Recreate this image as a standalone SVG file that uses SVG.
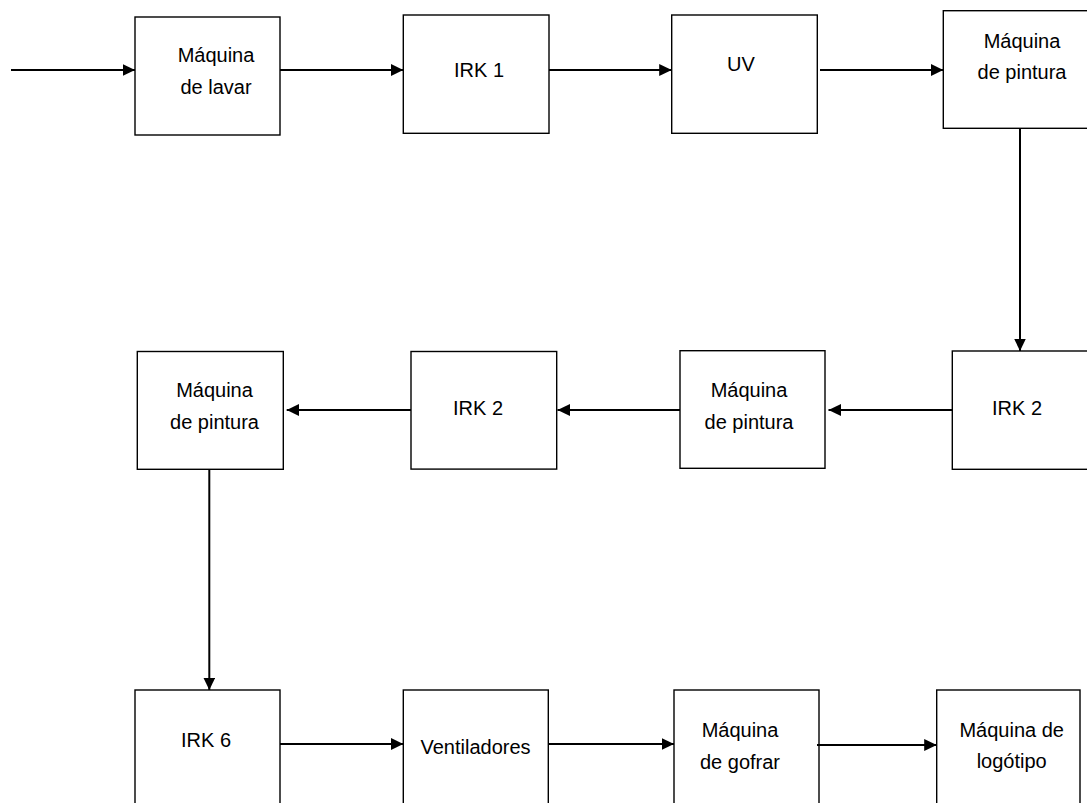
<svg xmlns="http://www.w3.org/2000/svg" width="1087" height="803" viewBox="0 0 1087 803">
<style>
.box{fill:#ffffff;stroke:#000000;stroke-width:1.4}
.lbl{font-family:"Liberation Sans",Arial,sans-serif;font-size:20px;fill:#000000;text-anchor:middle}
.con{stroke:#000000;stroke-width:2;fill:none;marker-end:url(#ah)}
</style>
<defs>
<marker id="ah" markerUnits="userSpaceOnUse" markerWidth="13" markerHeight="12" refX="12.5" refY="6" orient="auto">
<path d="M0,0 L12.5,6 L0,12 Z" fill="#000000"/>
</marker>
</defs>
<rect width="1087" height="803" fill="#ffffff"/>
<g id="n1"><rect class="box" x="135" y="17" width="145" height="118"/><text class="lbl" x="216" y="62">Máquina</text><text class="lbl" x="216" y="94">de lavar</text></g>
<g id="n2"><rect class="box" x="403.3" y="15" width="145.7" height="118.3"/><text class="lbl" x="479" y="77">IRK 1</text></g>
<g id="n3"><rect class="box" x="671.7" y="15" width="145.6" height="118.3"/><text class="lbl" x="741" y="71">UV</text></g>
<g id="n4"><rect class="box" x="943.3" y="10.7" width="150" height="117.6"/><text class="lbl" x="1022" y="48">Máquina</text><text class="lbl" x="1022" y="79">de pintura</text></g>
<g id="n5"><rect class="box" x="952.3" y="351" width="140" height="118.3"/><text class="lbl" x="1017" y="415">IRK 2</text></g>
<g id="n6"><rect class="box" x="680" y="350.7" width="145" height="117.6"/><text class="lbl" x="749" y="397">Máquina</text><text class="lbl" x="749" y="429">de pintura</text></g>
<g id="n7"><rect class="box" x="411" y="351.5" width="145.7" height="117.6"/><text class="lbl" x="478" y="415">IRK 2</text></g>
<g id="n8"><rect class="box" x="137.3" y="351.5" width="146" height="117.8"/><text class="lbl" x="214.5" y="397">Máquina</text><text class="lbl" x="214.5" y="429">de pintura</text></g>
<g id="n9"><rect class="box" x="135" y="690" width="145" height="130"/><text class="lbl" x="206" y="747">IRK 6</text></g>
<g id="n10"><rect class="box" x="403.3" y="690" width="145" height="130"/><text class="lbl" x="475.5" y="754">Ventiladores</text></g>
<g id="n11"><rect class="box" x="674" y="690" width="145" height="130"/><text class="lbl" x="740" y="737">Máquina</text><text class="lbl" x="740" y="769">de gofrar</text></g>
<g id="n12"><rect class="box" x="936.7" y="690" width="143.3" height="130"/><text class="lbl" x="1011.7" y="737">Máquina de</text><text class="lbl" x="1011.7" y="768">logótipo</text></g>
<g id="connectors">
<line class="con" x1="11" y1="70" x2="135" y2="70"/>
<line class="con" x1="280" y1="70" x2="403.3" y2="70"/>
<line class="con" x1="549" y1="70" x2="671.7" y2="70"/>
<line class="con" x1="820" y1="70" x2="943.3" y2="70"/>
<line class="con" x1="1020" y1="128.3" x2="1020" y2="351"/>
<line class="con" x1="952.3" y1="410" x2="828.5" y2="410"/>
<line class="con" x1="680" y1="410" x2="557.5" y2="410"/>
<line class="con" x1="411" y1="410" x2="286.7" y2="410"/>
<line class="con" x1="209.3" y1="469.3" x2="209.3" y2="690"/>
<line class="con" x1="280" y1="744" x2="403.3" y2="744"/>
<line class="con" x1="549" y1="744" x2="674" y2="744"/>
<line class="con" x1="817" y1="745" x2="936.7" y2="745"/>
</g>
</svg>
